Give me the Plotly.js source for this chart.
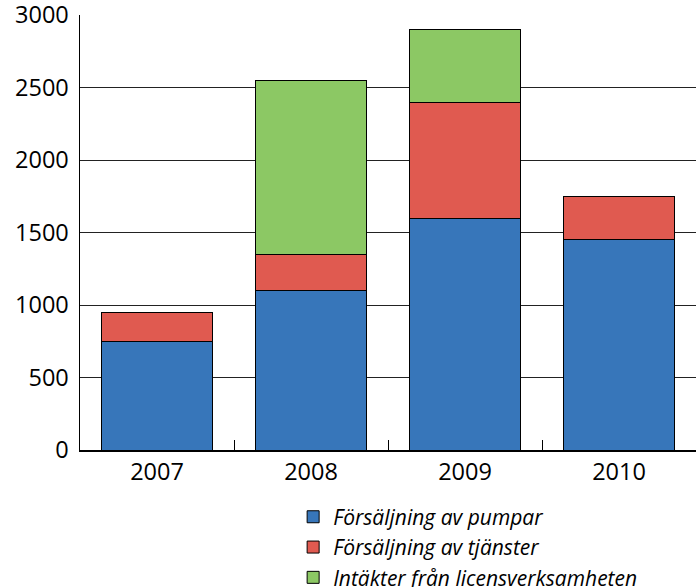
<!DOCTYPE html>
<html><head><meta charset="utf-8">
<script src="https://cdn.plot.ly/plotly-3.0.1.min.js"></script>
<style>html,body{margin:0;padding:0;background:#fff}</style>
</head><body>
<div id="chart" style="width:700px;height:587px"></div>
<script>
const years = ['2007', '2008', '2009', '2010'];
const pumpar = [750, 1100, 1600, 1450];
const tjanster = [200, 250, 800, 300];
const licens = [0, 1200, 500, 0];
const seriesNames = ['Försäljning av pumpar', 'Försäljning av tjänster', 'Intäkter från licensverksamheten'];
const colors = ['#3776BA', '#E05A50', '#8CC864'];
const yTicks = [0, 500, 1000, 1500, 2000, 2500, 3000];

const vals = [pumpar, tjanster, licens];
const traces = vals.map((v, i) => ({
  type: 'bar', x: years, y: v, name: seriesNames[i],
  marker: {color: colors[i], line: {color: '#000', width: 1}},
  width: 0.715, hoverinfo: 'skip'
}));

const layout = {
  width: 700, height: 587,
  margin: {l: 80, r: 4, t: 15, b: 137},
  barmode: 'stack',
  showlegend: true,
  paper_bgcolor: '#fff', plot_bgcolor: '#fff',
  font: {family: 'Open Sans, sans-serif', color: '#000'},
  xaxis: {
    type: 'category', range: [-0.5, 3.5], tickson: 'boundaries',
    ticks: 'inside', ticklen: 10, tickcolor: '#000', tickwidth: 1,
    showline: true, linecolor: '#000', linewidth: 1.5, showgrid: false,
    tickfont: {size: 23.5}, fixedrange: true, automargin: false
  },
  yaxis: {
    range: [0, 3000], tickvals: yTicks, ticktext: yTicks.map(String),
    showline: true, linecolor: '#000', linewidth: 1.5,
    showgrid: true, gridcolor: '#222', gridwidth: 1,
    zeroline: false, ticks: 'outside', ticklen: 5, tickcolor: 'rgba(0,0,0,0)',
    tickfont: {size: 23.5}, fixedrange: true, automargin: false,
    ticklabeloverflow: 'allow'
  },
  legend: {
    x: 0.346, xanchor: 'left', yref: 'container', y: 0.154, yanchor: 'top',
    traceorder: 'normal', orientation: 'v',
    font: {size: 21, style: 'italic'}, tracegroupgap: 0,
    itemwidth: 30, bgcolor: 'rgba(0,0,0,0)'
  }
};
Plotly.newPlot('chart', traces, layout, {staticPlot: true, displayModeBar: false});
</script>
</body></html>
